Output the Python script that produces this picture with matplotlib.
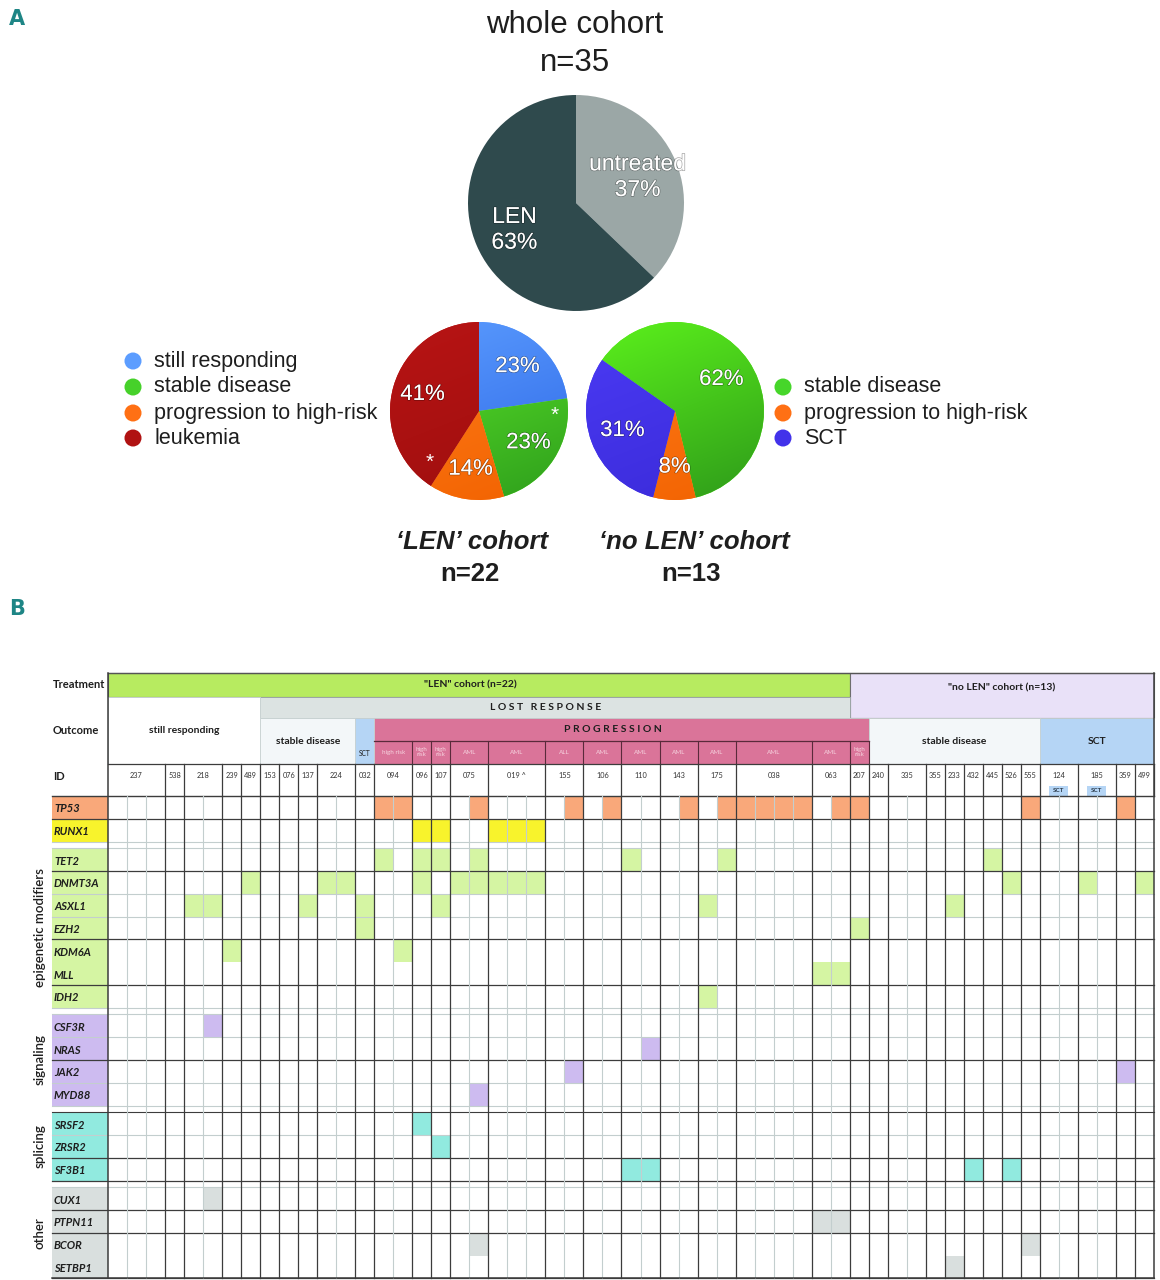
import numpy as np
import matplotlib
matplotlib.use('Agg')
from matplotlib import pyplot as plt
from matplotlib.patches import Rectangle
from matplotlib.colors import to_rgb
import matplotlib.patheffects as pe

plt.rcParams['font.family'] = ['Liberation Sans', 'DejaVu Sans']

# ---------------- panel A data ----------------
cohort_names = ['untreated', 'LEN']
cohort_counts = [13, 22]
cohort_colors = ['#9BA7A6', '#2F4A4D']

len_outcomes = ['still responding', 'stable disease', 'progression to high-risk', 'leukemia']
len_counts = [5, 5, 3, 9]
len_top = ['#5C9DFF', '#5EE82A', '#FF7D1C', '#B81414']
len_bottom = ['#2C66E6', '#2E9E1C', '#F26200', '#9C0E0E']

nolen_outcomes = ['stable disease', 'progression to high-risk', 'SCT']
nolen_counts = [8, 1, 4]
nolen_top = ['#5CF21C', '#FF7D1C', '#4B3BF5']
nolen_bottom = ['#2E9A1A', '#F26200', '#3A2AD8']

# ---------------- panel B data ----------------
patient_ids = ['237', '538', '218', '239', '489', '153', '076', '137', '224', '032',
               '094', '096', '107', '075', '019', '155', '106', '110', '143', '175',
               '038', '063', '207', '240', '335', '355', '233', '432', '445', '526',
               '555', '124', '185', '359', '499']
n_samples = [3, 1, 2, 1, 1, 1, 1, 1, 2, 1,
             2, 1, 1, 2, 3, 2, 2, 2, 2, 2,
             4, 2, 1, 1, 2, 1, 1, 1, 1, 1,
             1, 2, 2, 1, 1]
id_suffix = {'019': ' ^'}
sct_badges = ['124', '185']

treatment_groups = [('"LEN" cohort (n=22)', '237', '063'),
                    ('"no LEN" cohort (n=13)', '207', '499')]
lost_response = ('L O S T   R E S P O N S E', '153', '063')
outcome_groups = [('still responding', '237', '489'),
                  ('stable disease', '153', '224'),
                  ('SCT', '032', '032'),
                  ('P R O G R E S S I O N', '094', '207'),
                  ('stable disease', '240', '555'),
                  ('SCT', '124', '499')]
progression_ids = ['094', '096', '107', '075', '019', '155', '106', '110', '143',
                   '175', '038', '063', '207']
progression_types = ['high risk', 'high\nrisk', 'high\nrisk', 'AML', 'AML', 'ALL', 'AML',
                     'AML', 'AML', 'AML', 'AML', 'AML', 'high\nrisk']

gene_blocks = [['TP53', 'RUNX1'],
               ['TET2', 'DNMT3A', 'ASXL1', 'EZH2', 'KDM6A', 'MLL', 'IDH2'],
               ['CSF3R', 'NRAS', 'JAK2', 'MYD88'],
               ['SRSF2', 'ZRSR2', 'SF3B1'],
               ['CUX1', 'PTPN11', 'BCOR', 'SETBP1']]
block_names = ['', 'epigenetic modifiers', 'signaling', 'splicing', 'other']
block_colors = [None, '#D5F5A3', '#CDBBF0', '#91EADF', '#D9DFDE']
special_colors = {'TP53': '#F9A87A', 'RUNX1': '#F8F32C'}

# mutated samples: (patient, sample number)
tp53 = [('094', 0), ('094', 1), ('075', 1), ('155', 1), ('106', 1), ('143', 1), ('175', 1),
        ('038', 0), ('038', 1), ('038', 2), ('038', 3), ('063', 1), ('207', 0), ('555', 0),
        ('359', 0)]
runx1 = [('096', 0), ('107', 0), ('019', 0), ('019', 1), ('019', 2)]
tet2 = [('094', 0), ('096', 0), ('107', 0), ('075', 1), ('110', 0), ('175', 1), ('445', 0)]
dnmt3a = [('489', 0), ('224', 0), ('224', 1), ('096', 0), ('075', 0), ('075', 1), ('019', 0),
          ('019', 1), ('019', 2), ('526', 0), ('185', 0), ('499', 0)]
asxl1 = [('218', 0), ('218', 1), ('137', 0), ('032', 0), ('107', 0), ('175', 0), ('233', 0)]
ezh2 = [('032', 0), ('207', 0)]
kdm6a = [('239', 0), ('094', 1)]
mll = [('063', 0), ('063', 1)]
idh2 = [('175', 0)]
csf3r = [('218', 1)]
nras = [('110', 1)]
jak2 = [('155', 1), ('359', 0)]
myd88 = [('075', 1)]
srsf2 = [('096', 0)]
zrsr2 = [('107', 0)]
sf3b1 = [('110', 0), ('110', 1), ('432', 0), ('526', 0)]
cux1 = [('218', 1)]
ptpn11 = [('063', 0), ('063', 1)]
bcor = [('075', 1), ('555', 0)]
setbp1 = [('233', 0)]

gene_hits = {'TP53': tp53, 'RUNX1': runx1, 'TET2': tet2, 'DNMT3A': dnmt3a, 'ASXL1': asxl1,
             'EZH2': ezh2, 'KDM6A': kdm6a, 'MLL': mll, 'IDH2': idh2, 'CSF3R': csf3r,
             'NRAS': nras, 'JAK2': jak2, 'MYD88': myd88, 'SRSF2': srsf2, 'ZRSR2': zrsr2,
             'SF3B1': sf3b1, 'CUX1': cux1, 'PTPN11': ptpn11, 'BCOR': bcor, 'SETBP1': setbp1}

# genes whose lower border is drawn dark / not drawn at all
dark_below = {'TP53', 'TET2', 'EZH2', 'MLL', 'NRAS', 'ZRSR2', 'SF3B1', 'CUX1', 'PTPN11', 'SETBP1'}
no_line_below = {'KDM6A', 'BCOR'}

W, H = 1160, 1280
fig = plt.figure(figsize=(W / 100, H / 100), dpi=100)
ax = fig.add_axes([0, 0, 1, 1])
ax.set_xlim(0, W)
ax.set_ylim(H, 0)
ax.axis('off')

DARK = '#3C3C3C'
LIGHT = '#C3CECE'
B_FONT = ['Lato', 'DejaVu Sans']
TXT = '#1E1E1E'


def pie_axes(cx, cy, r):
    a = fig.add_axes([(cx - r) / W, 1 - (cy + r) / H, 2 * r / W, 2 * r / H])
    return a


def shade_wedges(a, wedges, tops, bottoms):
    yy, xx = np.mgrid[1:-1:300j, -1:1:300j]
    t = -0.9 * yy + 0.35 * xx
    t = (t - t.min()) / (t.max() - t.min())
    for w, c1, c2 in zip(wedges, tops, bottoms):
        c1, c2 = np.array(to_rgb(c1)), np.array(to_rgb(c2))
        img = c1[None, None, :] * (1 - t[..., None]) + c2[None, None, :] * t[..., None]
        im = a.imshow(img, extent=(-1, 1, -1, 1), zorder=1.5, interpolation='bilinear')
        im.set_clip_path(w)
    a.set_xlim(-1, 1)
    a.set_ylim(-1, 1)
    a.set_aspect('equal')
    a.axis('off')


shadow = [pe.withStroke(linewidth=1.0, foreground=(0, 0, 0, 0.35))]

# ---------------- panel A ----------------
ax.text(17, 19, 'A', fontsize=15, fontweight='bold', color='#1E8585', ha='center', va='center',
        family=['Liberation Sans Narrow', 'DejaVu Sans'])
ax.text(575, 25, 'whole cohort', fontsize=22.5, color=TXT, ha='center', va='center')
ax.text(575, 63, 'n=35', fontsize=22.5, color=TXT, ha='center', va='center')

a0 = pie_axes(576, 203, 108)
w0, _ = a0.pie(cohort_counts, colors=cohort_colors, startangle=90, counterclock=False,
               wedgeprops=dict(linewidth=0))
a0.set_xlim(-1, 1)
a0.set_ylim(-1, 1)
a0.axis('off')
total = sum(cohort_counts)
for w, name, n in zip(w0, cohort_names, cohort_counts):
    mid = np.radians((w.theta1 + w.theta2) / 2)
    a0.text(0.62 * np.cos(mid), 0.62 * np.sin(mid), '%s\n%.0f%%' % (name, 100 * n / total),
            color='white', fontsize=16.5, ha='center', va='center', linespacing=1.15,
            path_effects=shadow, zorder=4)

a1 = pie_axes(479, 411, 89)
w1, _, t1 = a1.pie(len_counts, colors=len_top, startangle=90, counterclock=False,
                   autopct='%1.0f%%', pctdistance=0.66, wedgeprops=dict(linewidth=0),
                   textprops=dict(color='white', fontsize=16, zorder=4))
for t in t1:
    t.set_path_effects(shadow)
shade_wedges(a1, w1, len_top, len_bottom)
for ang, rr in [(-3, 0.85), (-134, 0.8)]:
    a1.text(rr * np.cos(np.radians(ang)), rr * np.sin(np.radians(ang)), '*', color='white',
            fontsize=15, ha='center', va='center', zorder=4)

a2 = pie_axes(675, 411, 89)
w2, _, t2 = a2.pie(nolen_counts, colors=nolen_top, startangle=145, counterclock=False,
                   autopct='%1.0f%%', pctdistance=0.63, wedgeprops=dict(linewidth=0),
                   textprops=dict(color='white', fontsize=16, zorder=4))
for t in t2:
    t.set_path_effects(shadow)
shade_wedges(a2, w2, nolen_top, nolen_bottom)

ax.text(472, 542, '\u2018LEN\u2019 cohort', fontsize=18.5, fontweight='bold', fontstyle='italic',
        color=TXT, ha='center', va='center')
ax.text(470, 574, 'n=%d' % sum(len_counts), fontsize=18.5, fontweight='bold', color=TXT,
        ha='center', va='center')
ax.text(694, 542, '\u2018no LEN\u2019 cohort', fontsize=18.5, fontweight='bold', fontstyle='italic',
        color=TXT, ha='center', va='center')
ax.text(691, 574, 'n=%d' % sum(nolen_counts), fontsize=18.5, fontweight='bold', color=TXT,
        ha='center', va='center')

# legends
leg_left_y = [361, 387, 413, 438]
mid_left = [len_top[0], '#46D12A', '#FF7014', '#B01212']
ax.scatter([133] * 4, leg_left_y, s=150, c=mid_left, linewidths=0, zorder=3)
for y, lab in zip(leg_left_y, len_outcomes):
    ax.text(154, y, lab, fontsize=15.5, color=TXT, ha='left', va='center')
leg_right_y = [387, 413, 438]
mid_right = ['#46D62A', '#FF7014', '#4232EA']
ax.scatter([783] * 3, leg_right_y, s=150, c=mid_right, linewidths=0, zorder=3)
for y, lab in zip(leg_right_y, nolen_outcomes):
    ax.text(804, y, lab, fontsize=15.5, color=TXT, ha='left', va='center')

# ---------------- panel B ----------------
ax.text(17, 609, 'B', fontsize=15, fontweight='bold', color='#1E8585', ha='center', va='center',
        family=['Liberation Sans Narrow', 'DejaVu Sans'])

X_LAB, X0, X1 = 52, 108, 1154
n_cols = sum(n_samples)
CW = (X1 - X0) / n_cols
starts = np.concatenate([[0], np.cumsum(n_samples)[:-1]])
col_of = dict(zip(patient_ids, starts))
width_of = dict(zip(patient_ids, n_samples))
Y_TREAT, Y_LOST, Y_OUT, Y_SUB, Y_ID, Y_BODY = 673, 697, 718, 741, 764, 796
ROW_H, GAP = 22.8, 6.6


def span(first, last):
    x_a = X0 + col_of[first] * CW
    x_b = X0 + (col_of[last] + width_of[last]) * CW
    return x_a, x_b


# header label column
for lab, y in [('Treatment', 685), ('Outcome', 730), ('ID', 776)]:
    ax.text(X_LAB + 1, y, lab, fontsize=8, fontweight='bold', color=TXT, ha='left',
            va='center', family=B_FONT)

# treatment row
treat_colors = ['#B7EB60', '#E9E1F8']
for (lab, a, b), c, h in zip(treatment_groups, treat_colors, [Y_LOST - Y_TREAT, Y_OUT - Y_TREAT]):
    xa, xb = span(a, b)
    ax.add_patch(Rectangle((xa, Y_TREAT), xb - xa, h, facecolor=c, edgecolor='#6E6E6E', lw=0.8))
    ax.text((xa + xb) / 2 - (8 if h < 30 else 0), Y_TREAT + 12 if h < 30 else Y_TREAT + 15, lab,
            fontsize=7.5, fontweight='bold', color=TXT, ha='center', va='center', family=B_FONT)

lab, a, b = lost_response
xa, xb = span(a, b)
ax.add_patch(Rectangle((xa, Y_LOST), xb - xa, Y_OUT - Y_LOST, facecolor='#DCE3E2',
                       edgecolor='#9AA5A5', lw=0.6))
ax.text((xa + xb) / 2 - 9, (Y_LOST + Y_OUT) / 2, lab, fontsize=7.5, fontweight='bold',
        color=TXT, ha='center', va='center', family=B_FONT)

# outcome row
outcome_fill = {'still responding': 'white', 'stable disease': '#F3F7F9', 'SCT': '#B5D5F5',
                'P R O G R E S S I O N': '#DA7499'}
for lab, a, b in outcome_groups:
    xa, xb = span(a, b)
    top = Y_LOST if lab == 'still responding' else Y_OUT
    ax.add_patch(Rectangle((xa, top), xb - xa, Y_ID - top, facecolor=outcome_fill[lab],
                           edgecolor='#C8D2D2', lw=0.6))
    if lab.startswith('P R O'):
        ax.text((xa + xb) / 2 - 9, (Y_OUT + Y_SUB) / 2, lab, fontsize=7.5, fontweight='bold',
                color=TXT, ha='center', va='center', family=B_FONT)
        ax.plot([xa, xb], [Y_SUB, Y_SUB], color='#5A2A3A', lw=0.9)
    elif lab == 'SCT' and xb - xa < 2 * CW:
        ax.text((xa + xb) / 2, 753, lab, fontsize=4.8, color=TXT, ha='center', va='center',
                family=B_FONT)
    else:
        ax.text((xa + xb) / 2, (top + Y_ID) / 2, lab, fontsize=7.5, fontweight='bold',
                color=TXT, ha='center', va='center', family=B_FONT)

for pid, kind in zip(progression_ids, progression_types):
    xa, xb = span(pid, pid)
    ax.text((xa + xb) / 2, (Y_SUB + Y_ID) / 2, kind, fontsize=4.5, color='#F6D3DF',
            ha='center', va='center', linespacing=1.0, family=B_FONT)
    ax.plot([xb, xb], [Y_SUB, Y_ID], color='#5A2A3A', lw=0.8)

# ID row
for pid in patient_ids:
    xa, xb = span(pid, pid)
    ax.text((xa + xb) / 2, 776, pid + id_suffix.get(pid, ''), fontsize=5.3, color='#333333',
            ha='center', va='center', family=B_FONT)
    ax.plot([xb, xb], [Y_ID, Y_BODY], color=DARK, lw=0.9)
for pid in sct_badges:
    xa, xb = span(pid, pid)
    xc = (xa + xb) / 2
    ax.add_patch(Rectangle((xc - 9.5, 785.5), 19, 10, facecolor='#B5D5F5', edgecolor='none'))
    ax.text(xc, 790.5, 'SCT', fontsize=4.6, fontweight='bold', color='#2A3A4A', ha='center',
            va='center', family=B_FONT)

# body rows
row_top = {}
y = Y_BODY
for bi, block in enumerate(gene_blocks):
    if bi > 0:
        y += GAP
    for g in block:
        row_top[g] = y
        y += ROW_H
Y_END = y

for bi, block in enumerate(gene_blocks):
    for g in block:
        col = special_colors.get(g, block_colors[bi])
        yt = row_top[g]
        ax.add_patch(Rectangle((X_LAB, yt), X0 - X_LAB, ROW_H, facecolor=col, edgecolor='none'))
        ax.text(X_LAB + 2, yt + 13, g, fontsize=8, fontweight='bold', fontstyle='italic',
                color=TXT, ha='left', va='center', family=B_FONT)
        for pid, s in gene_hits[g]:
            c = col_of[pid] + s
            ax.add_patch(Rectangle((X0 + c * CW, yt), CW, ROW_H, facecolor=col,
                                   edgecolor='none', zorder=1))
    if block_names[bi]:
        y_a = row_top[block[0]]
        y_b = row_top[block[-1]] + ROW_H
        ax.text(40, (y_a + y_b) / 2, block_names[bi], fontsize=9.5, fontweight='semibold',
                rotation=90, color=TXT, ha='center', va='center', family=B_FONT)

# horizontal lines in the body
for bi, block in enumerate(gene_blocks):
    yt = row_top[block[0]]
    ax.plot([X_LAB, X1], [yt, yt], color=DARK if (bi == 0 or block[0] == 'SRSF2') else LIGHT,
            lw=1.0 if bi == 0 else 0.8, zorder=2)
    for g in block:
        if g in no_line_below:
            continue
        yb = row_top[g] + ROW_H
        ax.plot([X_LAB, X1], [yb, yb], color=DARK if g in dark_below else LIGHT,
                lw=0.9 if g in dark_below else 0.8, zorder=2)

# vertical lines in the body
patient_edges = set(starts)
for k in range(1, n_cols):
    x = X0 + k * CW
    dark = k in patient_edges
    ax.plot([x, x], [Y_BODY, Y_END], color=DARK if dark else LIGHT, lw=0.9 if dark else 0.8,
            zorder=2)

# outer frame
ax.plot([X0, X1], [Y_TREAT, Y_TREAT], color='#555555', lw=1.0, zorder=3)
ax.plot([X0, X1], [Y_ID, Y_ID], color=DARK, lw=0.9, zorder=3)
ax.plot([X0, X0], [Y_TREAT, Y_END], color=DARK, lw=1.1, zorder=3)
ax.plot([X1, X1], [Y_TREAT, Y_END], color=DARK, lw=1.1, zorder=3)
ax.plot([X_LAB, X1], [Y_END, Y_END], color=DARK, lw=1.1, zorder=3)

fig.savefig('out.png', dpi=100)
